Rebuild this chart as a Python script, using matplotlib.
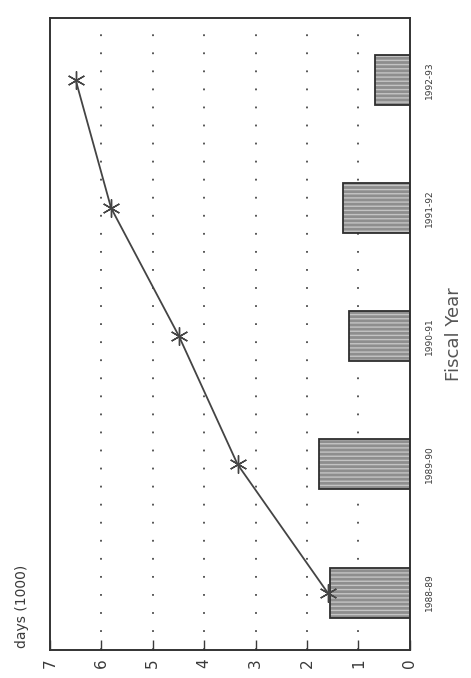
import numpy as np
import matplotlib
matplotlib.use('Agg')
import matplotlib.pyplot as plt

# fiscal years, bar values and trend line values (thousand days)
years = ['1988-89', '1989-90', '1990-91', '1991-92', '1992-93']
bar_days = [1.56, 1.76, 1.19, 1.29, 0.67]
line_days = [1.6, 3.35, 4.49, 5.81, 6.5]
value_ticks = [0, 1, 2, 3, 4, 5, 6, 7]

ink = '#3a3a3a'
pos = np.arange(len(years))

fig = plt.figure(figsize=(4.71, 6.78), dpi=100)
ax = fig.add_axes([0.106, 0.041, 0.764, 0.932])

# dotted grid at each whole value
for v in value_ticks[1:-1]:
    ax.axvline(v, color='#4a4a4a', lw=1.3, ls=(0, (1, 9)), zorder=1)

# textured bars: hatch layer first, then outline
ax.barh(pos, bar_days, height=0.39, color='#8e8e8e', edgecolor='#c4c4c4',
        hatch='----', linewidth=0, zorder=2)
ax.barh(pos, bar_days, height=0.39, fill=False, edgecolor='#2e2e2e',
        linewidth=1.3, zorder=3)

ax.plot(line_days, pos, color='#444444', lw=1.3, marker=(6, 2, 0),
        markersize=13, markeredgewidth=1.0, zorder=4)

ax.set_xlim(7, 0)
ax.set_ylim(-0.45, 4.48)

ax.set_xticks(value_ticks)
ax.set_xticklabels([str(v) for v in value_ticks], rotation=90,
                   fontsize=11, color=ink)
ax.tick_params(axis='x', direction='in', length=7, width=1.0, color=ink, pad=6)

ax.yaxis.tick_right()
ax.set_yticks(pos)
ax.set_yticklabels(years, rotation=90, va='center', fontsize=6.5, color=ink)
ax.tick_params(axis='y', length=0, pad=11)

ax.yaxis.set_label_position('right')
ax.set_ylabel('Fiscal Year', fontsize=13, color='#555555', labelpad=8)

fig.text(22 / 471, 1 - 648 / 678, 'days (1000)', rotation=90, ha='center',
         va='bottom', fontsize=10, color=ink)

for s in ax.spines.values():
    s.set_color('#333333')
    s.set_linewidth(1.4)

fig.savefig('out.png', dpi=100)
